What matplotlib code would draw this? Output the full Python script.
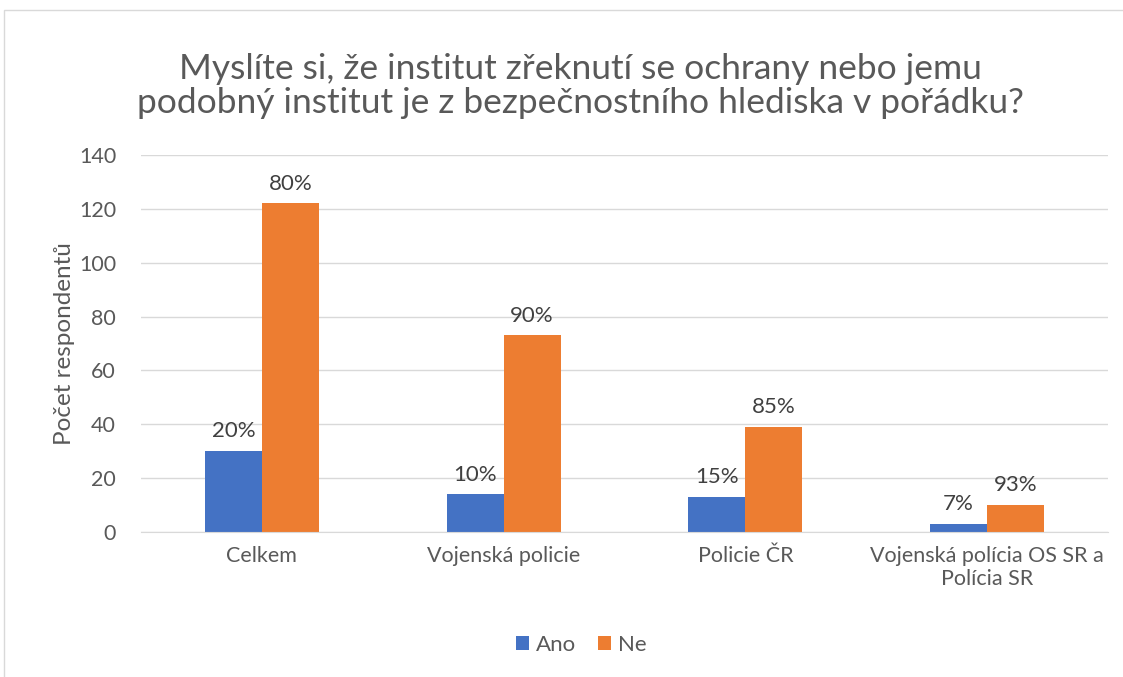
import matplotlib
matplotlib.use('Agg')
import matplotlib.pyplot as plt
from matplotlib.patches import Rectangle
import numpy as np

categories = ['Celkem', 'Vojenská policie', 'Policie ČR', 'Vojenská polícia OS SR a\nPolícia SR']
ano = [30, 14, 13, 3]
ne = [122, 73, 39, 10]
ano_pct = ['20%', '10%', '15%', '7%']
ne_pct = ['80%', '90%', '85%', '93%']

plt.rcParams['font.family'] = ['Lato', 'DejaVu Sans']
text_col = '#595959'

fig = plt.figure(figsize=(11.23, 6.77), dpi=100)
ax = fig.add_axes([0.1256, 0.2142, 0.861, 0.5568])

# chart border
fig.patches.append(Rectangle((0.004, -0.1), 1.2, 1.085, transform=fig.transFigure,
                             fill=False, edgecolor='#d9d9d9', linewidth=1))

x = np.arange(len(categories))
w = 0.236
b1 = ax.bar(x - w / 2, ano, w, color='#4472c4', label='Ano')
b2 = ax.bar(x + w / 2, ne, w, color='#ed7d31', label='Ne')

for bars, labels in ((b1, ano_pct), (b2, ne_pct)):
    for bar, lab in zip(bars, labels):
        ax.annotate(lab, (bar.get_x() + bar.get_width() / 2, bar.get_height()),
                    xytext=(0, 7), textcoords='offset points', ha='center', va='bottom',
                    fontsize=16, color='#404040')

ax.set_xlim(-0.5, len(categories) - 0.5)
ax.set_ylim(0, 140)
ax.set_yticks(range(0, 141, 20))
ax.yaxis.grid(True, color='#d9d9d9', linewidth=1)
ax.set_axisbelow(True)
for s in ('top', 'right', 'left'):
    ax.spines[s].set_visible(False)
ax.spines['bottom'].set_color('#d9d9d9')
ax.tick_params(axis='both', length=0, labelsize=15.5, colors=text_col)
ax.tick_params(axis='y', pad=18)
ax.tick_params(axis='x', pad=10)
ax.set_xticks(x)
ax.set_xticklabels(categories)
ax.set_ylabel('Počet respondentů', fontsize=17.5, color=text_col, labelpad=3)

fig.text(0.517, 0.873, 'Myslíte si, že institut zřeknutí se ochrany nebo jemu\npodobný institut je z bezpečnostního hlediska v pořádku?',
         ha='center', va='center', fontsize=25.5, color=text_col, linespacing=1.1)

ax.legend(loc='center', bbox_to_anchor=(0.455, -0.3), ncol=2, frameon=False,
          fontsize=16, handlelength=0.6, handleheight=0.6, handletextpad=0.3,
          columnspacing=1.0, labelcolor=text_col)

fig.savefig('out.png', dpi=100)
